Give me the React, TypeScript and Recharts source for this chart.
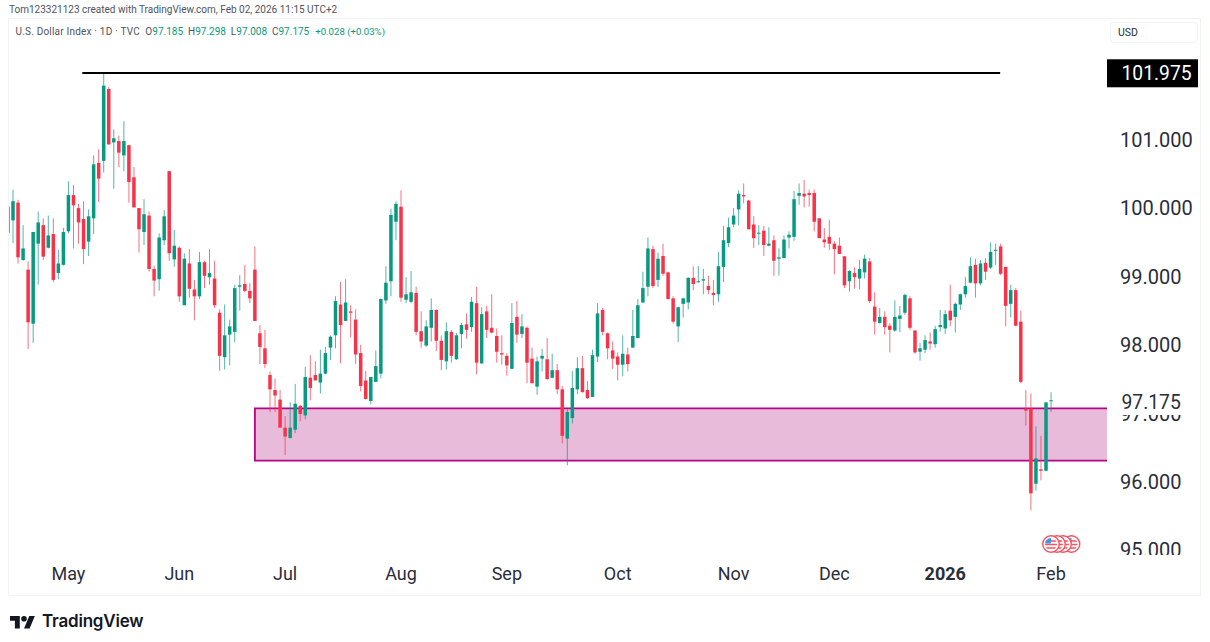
import React from 'react';
import { ComposedChart, Bar, XAxis, YAxis, ReferenceArea, ReferenceLine } from 'recharts';

const opens = [
  100.01, 99.81, 100.07, 99.23, 99.09, 98.30, 99.47, 99.74, 99.41, 99.61,
  99.04, 99.16, 99.65, 100.18, 99.99, 99.83, 99.50, 99.84, 100.65, 100.68,
  101.73, 100.95, 100.97, 100.76, 100.91, 100.44, 99.99, 99.64, 99.88, 99.10,
  98.95, 99.52, 100.53, 99.24, 99.41, 98.57, 99.18, 98.80, 98.70, 99.20,
  98.98, 98.96, 98.46, 97.81, 98.14, 98.18, 98.84, 98.88, 98.78, 99.09,
  98.16, 97.94, 97.55, 97.33, 97.19, 96.78, 96.63, 96.75, 97.10, 96.96,
  97.51, 97.55, 97.44, 97.57, 97.95, 98.13, 98.58, 98.34, 98.48, 98.36,
  97.87, 97.47, 97.17, 97.45, 97.57, 98.64, 98.92, 99.79, 100.01, 98.65,
  98.62, 98.75, 98.19, 97.98, 98.24, 98.50, 98.05, 97.75, 98.18, 97.78,
  98.15, 98.29, 98.25, 98.60, 97.72, 98.48, 98.24, 98.12, 97.87, 97.83,
  97.64, 98.40, 98.15, 98.24, 97.79, 97.38, 97.79, 97.78, 97.51, 97.62,
  97.34, 96.62, 96.92, 97.34, 97.65, 97.33, 97.23, 97.82, 98.50, 98.16,
  97.91, 97.82, 97.70, 97.85, 97.95, 98.09, 98.61, 98.84, 99.39, 98.94,
  99.29, 99.05, 98.67, 98.26, 98.59, 98.61, 98.97, 98.91, 98.93, 98.85,
  98.75, 98.73, 99.13, 99.48, 99.75, 99.97, 100.18, 100.10, 99.75, 99.62,
  99.66, 99.44, 99.52, 99.25, 99.26, 99.56, 99.57, 100.17, 100.20, 100.21,
  100.21, 99.84, 99.53, 99.57, 99.47, 99.44, 99.285, 98.92, 99.04, 98.96,
  99.05, 99.21, 98.55, 98.31, 98.40, 98.27, 98.20, 98.37, 98.46, 98.67,
  98.20, 97.89, 97.92, 98.04, 98.00, 98.25, 98.23, 98.49, 98.40, 98.58,
  98.73, 98.90, 99.16, 98.89, 99.19, 99.12, 99.37, 99.43, 99.13, 98.59,
  98.79, 98.33, 97.06, 97.06, 95.96, 96.17, 96.15, 97.17,
];

const highs = [
  100.02, 100.26, 100.11, 99.74, 99.21, 99.64, 99.94, 99.84, 99.88, 99.84,
  99.38, 99.70, 100.38, 100.33, 100.05, 100.09, 99.97, 100.76, 100.85, 101.98,
  101.76, 101.14, 101.05, 101.26, 100.91, 100.59, 99.99, 100.12, 99.94, 99.15,
  99.62, 99.96, 100.53, 99.67, 99.43, 99.33, 99.39, 98.94, 99.35, 99.22,
  99.39, 99.22, 98.51, 98.58, 98.36, 98.87, 99.01, 99.16, 98.89, 99.43,
  98.28, 98.21, 97.60, 97.50, 97.33, 96.95, 97.15, 97.42, 97.11, 97.67,
  97.84, 97.75, 97.92, 97.96, 98.13, 98.70, 98.91, 98.95, 98.57, 98.51,
  97.99, 97.61, 97.52, 97.91, 98.67, 99.14, 99.98, 100.09, 100.25, 98.98,
  99.07, 98.84, 98.48, 98.35, 98.67, 98.51, 98.13, 98.32, 98.21, 98.16,
  98.31, 98.45, 98.69, 98.84, 98.54, 98.56, 98.73, 98.23, 98.13, 97.87,
  98.60, 98.63, 98.44, 98.26, 97.95, 97.82, 97.93, 98.09, 97.86, 97.71,
  97.39, 97.05, 97.61, 97.81, 97.83, 97.46, 97.92, 98.60, 98.53, 98.17,
  98.04, 97.88, 98.13, 97.95, 98.50, 98.66, 99.06, 99.56, 99.44, 99.34,
  99.47, 99.06, 98.70, 98.55, 98.68, 98.98, 99.14, 99.14, 99.10, 99.00,
  98.94, 99.35, 99.73, 99.85, 99.99, 100.25, 100.35, 100.11, 99.87, 99.74,
  99.73, 99.71, 99.59, 99.40, 99.59, 99.65, 100.24, 100.35, 100.40, 100.26,
  100.26, 99.84, 99.70, 99.82, 99.51, 99.56, 99.29, 99.08, 99.12, 99.23,
  99.31, 99.26, 98.76, 98.53, 98.48, 98.31, 98.64, 98.56, 98.74, 98.70,
  98.21, 98.02, 98.13, 98.17, 98.27, 98.50, 98.50, 98.87, 98.61, 98.74,
  98.98, 99.27, 99.25, 99.23, 99.26, 99.49, 99.47, 99.47, 99.13, 98.87,
  98.82, 98.49, 97.33, 97.28, 96.80, 96.66, 97.15, 97.298,
];

const lows = [
  99.63, 99.48, 99.18, 99.22, 97.93, 98.02, 98.87, 99.23, 99.40, 98.91,
  98.95, 99.15, 99.62, 99.40, 99.47, 99.17, 99.29, 99.61, 100.08, 100.51,
  100.92, 100.27, 100.59, 100.53, 100.07, 100.00, 99.34, 99.45, 99.06, 98.70,
  98.78, 99.45, 99.22, 99.13, 98.62, 98.57, 98.68, 98.35, 98.66, 98.82,
  98.87, 98.53, 97.61, 97.63, 97.69, 98.03, 98.49, 98.76, 98.60, 98.34,
  97.71, 97.65, 97.01, 97.01, 96.78, 96.38, 96.62, 96.70, 96.87, 96.90,
  97.18, 97.47, 97.28, 97.56, 97.77, 97.94, 97.72, 98.34, 98.10, 97.71,
  97.31, 97.19, 97.12, 97.45, 97.50, 98.59, 98.70, 99.52, 98.62, 98.60,
  98.60, 98.13, 97.95, 97.96, 98.04, 97.90, 97.62, 97.63, 97.73, 97.77,
  97.94, 98.08, 98.18, 97.56, 97.71, 98.09, 98.16, 97.73, 97.70, 97.54,
  97.64, 98.02, 98.09, 97.43, 97.43, 97.26, 97.60, 97.48, 97.50, 97.27,
  96.55, 96.23, 96.84, 97.27, 97.29, 97.20, 97.23, 97.74, 98.13, 97.78,
  97.64, 97.47, 97.53, 97.60, 97.95, 98.09, 98.60, 98.70, 98.82, 98.84,
  99.00, 98.66, 98.30, 98.03, 98.39, 98.51, 98.79, 98.90, 98.73, 98.73,
  98.57, 98.62, 98.91, 99.42, 99.71, 99.74, 100.06, 99.68, 99.41, 99.45,
  99.29, 99.43, 99.00, 99.00, 99.26, 99.40, 99.51, 100.04, 100.00, 100.01,
  99.65, 99.55, 99.41, 99.38, 99.02, 99.32, 98.82, 98.77, 98.81, 98.80,
  98.96, 98.60, 98.14, 98.30, 98.14, 97.88, 98.18, 98.18, 98.43, 98.21,
  97.86, 97.76, 97.87, 97.92, 97.95, 98.18, 98.15, 98.26, 98.17, 98.50,
  98.68, 98.89, 98.68, 98.86, 98.94, 99.10, 99.16, 99.01, 98.26, 98.39,
  98.26, 97.43, 96.81, 95.57, 95.86, 96.01, 96.15, 97.008,
];

const closes = [
  99.63, 100.09, 99.27, 99.40, 98.32, 99.64, 99.78, 99.28, 99.59, 98.94,
  99.18, 99.64, 100.18, 100.03, 99.78, 99.39, 99.87, 100.63, 100.42, 101.78,
  100.92, 101.01, 100.80, 100.97, 100.37, 100.00, 99.68, 99.90, 99.10, 98.93,
  99.56, 99.87, 99.33, 99.44, 98.70, 99.25, 98.81, 98.70, 99.20, 99.00,
  99.04, 98.57, 97.83, 98.13, 98.26, 98.82, 98.86, 98.78, 98.67, 98.34,
  97.96, 97.71, 97.34, 97.25, 96.78, 96.65, 96.78, 97.13, 96.98, 97.52,
  97.36, 97.47, 97.57, 97.87, 98.11, 98.63, 98.28, 98.61, 98.46, 97.85,
  97.39, 97.20, 97.52, 97.68, 98.66, 98.90, 99.89, 100.05, 98.68, 98.73,
  98.76, 98.18, 98.04, 98.26, 98.50, 98.05, 97.77, 98.19, 97.83, 98.13,
  98.28, 98.21, 98.62, 97.73, 98.44, 98.21, 98.17, 97.89, 97.85, 97.69,
  98.31, 98.14, 98.26, 97.73, 97.43, 97.75, 97.83, 97.49, 97.62, 97.34,
  96.66, 97.01, 97.36, 97.65, 97.30, 97.21, 97.84, 98.45, 98.18, 97.94,
  97.79, 97.70, 97.86, 97.71, 98.12, 98.57, 98.82, 99.40, 98.85, 99.25,
  99.03, 98.66, 98.33, 98.54, 98.67, 98.97, 98.88, 98.92, 98.95, 98.79,
  98.72, 99.14, 99.52, 99.71, 99.88, 100.20, 100.16, 99.68, 99.55, 99.63,
  99.45, 99.47, 99.22, 99.27, 99.53, 99.60, 100.12, 100.21, 100.16, 100.18,
  99.79, 99.55, 99.49, 99.47, 99.39, 99.32, 98.86, 99.07, 98.98, 99.10,
  99.25, 98.63, 98.33, 98.40, 98.25, 98.21, 98.40, 98.42, 98.72, 98.24,
  97.88, 97.94, 98.06, 98.01, 98.22, 98.28, 98.44, 98.35, 98.59, 98.73,
  98.85, 99.14, 98.89, 99.18, 99.06, 99.35, 99.38, 99.03, 98.56, 98.79,
  98.27, 97.45, 97.03, 95.82, 96.33, 96.15, 97.15, 97.18,
];

const monthTicks = [12, 34, 55, 78, 99, 121, 144, 164, 186, 207];
const monthLabels = ['May', 'Jun', 'Jul', 'Aug', 'Sep', 'Oct', 'Nov', 'Dec', '2026', 'Feb'];
const priceTicks = [95, 96, 97, 98, 99, 100, 101];

const resistance = 101.975;
const lastPrice = 97.175;
const zoneTop = 97.063;
const zoneBottom = 96.297;

const candles = opens.map((open, i) => ({
  idx: i,
  open,
  high: highs[i],
  low: lows[i],
  close: closes[i],
}));

const UP = '#089981';
const DOWN = '#F7334A';
const FONT = 'Roboto, sans-serif';

const Candle = (props: any) => {
  const { x, y, width, height, payload } = props;
  const cx = x + width / 2;
  const perUnit = height / (payload.high - payload.low);
  const top = y + (payload.high - Math.max(payload.open, payload.close)) * perUnit;
  const bodyH = Math.max(Math.abs(payload.open - payload.close) * perUnit, 1);
  const color = payload.close >= payload.open ? UP : DOWN;
  return (
    <g>
      <line x1={cx} x2={cx} y1={y} y2={y + height} stroke={color} strokeWidth={1} strokeOpacity={0.7} />
      <rect x={cx - 1.75} y={top} width={3.5} height={bodyH} fill={color} />
    </g>
  );
};

const MonthTick = ({ x, y, payload }: any) => {
  const label = monthLabels[monthTicks.indexOf(payload.value)];
  return (
    <text x={x} y={y} dy={16} textAnchor="middle" fontSize={18} fontFamily={FONT}
      fontWeight={label === '2026' ? 700 : 400} fill="#2a2e39">
      {label}
    </text>
  );
};

// labels are cut off by the last-price tag and by the bottom of the scale
const PriceTick = ({ y, payload }: any) => (
  <g>
    <clipPath id="scaleClip">
      <rect x={1108} y={19} width={92} height={368} />
      <rect x={1108} y={415} width={92} height={140} />
    </clipPath>
    <text x={1120} y={y} dy={8} fontSize={20} fontFamily={FONT} fill="#2a2e39" clipPath="url(#scaleClip)">
      {payload.value.toFixed(3)}
    </text>
  </g>
);

const PriceTag = ({ viewBox, text, bg, color, boxH }: any) => (
  <g>
    <rect x={1107} y={viewBox.y - boxH / 2 + 1} width={91} height={boxH} fill={bg} />
    <text x={1121.5} y={viewBox.y} dy={8} fontSize={19.3} fontFamily={FONT} fill={color}>{text}</text>
  </g>
);

const Flag = ({ cx }: { cx: number }) => (
  <g>
    <circle cx={cx} cy={544} r={8.3} fill="#fff" stroke="#f7525f" strokeWidth={1.4} />
    <clipPath id={`flag${cx}`}>
      <circle cx={cx} cy={544} r={6} />
    </clipPath>
    <g clipPath={`url(#flag${cx})`}>
      <path d={`M${cx - 7} 541h14M${cx - 7} 544.5h14M${cx - 7} 548h14`} stroke="#f7525f" strokeWidth={1.3} />
      <rect x={cx - 6} y={538} width={6} height={5.5} fill="#4a90e2" />
    </g>
  </g>
);

const App = () => {
  return (
    <div style={{ position: 'absolute', left: 0, top: 0, width: 1210, height: 642, background: '#fff', overflow: 'hidden', fontFamily: FONT }}>
      <div style={{ position: 'absolute', left: 8, top: 18, width: 1193, height: 578, border: '1px solid #f0f3fa', boxSizing: 'border-box' }} />
      <div style={{ position: 'absolute', left: 9, top: 4, fontSize: 10, color: '#50535e', whiteSpace: 'nowrap' }}>
        Tom123321123 created with TradingView.com, Feb 02, 2026 11:15 UTC+2
      </div>
      <div style={{ position: 'absolute', left: 15.5, top: 26, fontSize: 10, color: '#50535e', whiteSpace: 'pre' }}>
        <span style={{ letterSpacing: 0.2 }}>{'U.S. Dollar Index · 1D · TVC  O'}</span>
        <span style={{ color: UP }}>97.185</span>{'  H'}
        <span style={{ color: UP }}>97.298</span>{'  L'}
        <span style={{ color: UP }}>97.008</span>{'  C'}
        <span style={{ color: UP }}>97.175</span>
        <span style={{ color: UP, fontSize: 9.6, marginLeft: 6 }}>+0.028 (+0.03%)</span>
      </div>

      <div style={{ position: 'absolute', left: 0, top: 0 }}>
        <ComposedChart
          width={1210}
          height={642}
          data={candles}
          margin={{ top: 19, right: 9, bottom: 46, left: 9 }}
        >
          <XAxis
            dataKey="idx"
            type="number"
            domain={[0.2, 218.1]}
            allowDataOverflow
            ticks={monthTicks}
            interval={0}
            height={40}
            axisLine={false}
            tickLine={false}
            tick={<MonthTick />}
          />
          <YAxis
            orientation="right"
            domain={[94.904, 102.754]}
            allowDataOverflow
            ticks={priceTicks}
            interval={0}
            width={94}
            axisLine={false}
            tickLine={false}
            tick={<PriceTick />}
          />
          <ReferenceArea
            x1={49}
            x2={220}
            y1={zoneTop}
            y2={zoneBottom}
            ifOverflow="hidden"
            fill="#E9BBDB"
            fillOpacity={1}
            stroke="#B5048A"
            strokeWidth={1.8}
          />
          <Bar
            dataKey={(d: any) => [d.low, d.high]}
            barSize={5}
            shape={<Candle />}
            isAnimationActive={false}
          />
          <ReferenceLine
            segment={[{ x: 14.75, y: resistance }, { x: 196.9, y: resistance }]}
            stroke="#000"
            strokeWidth={2}
            style={{ transform: 'translateY(0.7px)' }}
          />
          <ReferenceLine
            y={resistance}
            stroke="none"
            label={<PriceTag text={resistance.toFixed(3)} bg="#000" color="#fff" boxH={28} />}
          />
          <ReferenceLine
            y={lastPrice}
            stroke="none"
            label={<PriceTag text={lastPrice.toFixed(3)} bg="none" color="#2a2e39" boxH={28} />}
          />
        </ComposedChart>
      </div>

      <svg style={{ position: 'absolute', left: 0, top: 0, pointerEvents: 'none' }} width={1210} height={642}>
        <Flag cx={1071.5} />
        <Flag cx={1063} />
        <Flag cx={1057} />
        <Flag cx={1051} />
        <g transform="translate(10 614.5) scale(0.7 0.7)" fill="#131722">
          <path d="M14 20H7V9H0V2h14v18zM28 20h-8l7.5-18h8L28 20z" />
          <circle cx={20} cy={6} r={4} />
        </g>
      </svg>
      <div style={{ position: 'absolute', left: 42, top: 611, fontSize: 17, fontWeight: 600, color: '#131722', fontFamily: 'Inter, sans-serif', letterSpacing: -0.2 }}>
        TradingView
      </div>
      <div style={{ position: 'absolute', left: 1110, top: 22, width: 88, height: 21, border: '1px solid #f0f3fa', borderRadius: 4, boxSizing: 'border-box', fontSize: 10.5, color: '#2a2e39', padding: '3px 7px' }}>
        USD
      </div>
    </div>
  );
};

export default App;
